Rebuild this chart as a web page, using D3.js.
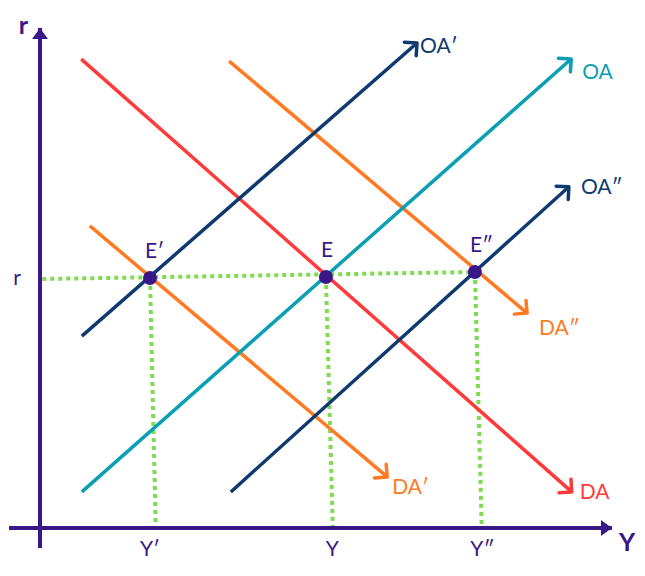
<!DOCTYPE html>
<html lang="fr">
<head>
<meta charset="UTF-8">
<title>OA / DA</title>
<style>
    body { margin: 0; background: #fff; }
    svg { display: block; }
    text { font-family: Lato, "Noto Sans", sans-serif; }
</style>
</head>
<body>
<svg id="chart" width="645" height="576"></svg>
<script src="https://d3js.org/d3.v7.min.js"></script>
<script>
    // courbes : [x, y] en unités du graphique (0..100)
    const curveNames = ["DA", "DA′", "DA″", "OA", "OA′", "OA″"];
    const curveStart = [[7.2, 93.6], [8.7, 60.3], [33.0, 93.2], [7.3, 7.2], [7.3, 38.3], [33.3, 7.2]];
    const curveEnd = [[92.8, 7.2], [60.6, 10.2], [85.0, 42.9], [92.7, 93.6], [65.8, 96.8], [92.3, 68.1]];

    // équilibres
    const eqNames = ["E′", "E", "E″"];
    const eqPoints = [[19.2, 49.9], [49.9, 50.1], [75.9, 51.1]];
    const eqFoot = [20.2, 51.1, 77.1];      // pied des pointillés sur l'axe Y
    const rStart = [0.4, 49.7];             // début du pointillé horizontal

    // graduations
    const xTickLabels = ["Y′", "Y", "Y″"];
    const xTickValues = [19.2, 51.0, 77.2];
    const yTickLabels = ["r"];
    const yTickValues = [49.9];

    const colors = {
        "DA": "#ff3a3a", "DA′": "#ff7a22", "DA″": "#ff7a22",
        "OA": "#0b9fb4", "OA′": "#0f3a70", "OA″": "#0f3a70"
    };
    // décalage des étiquettes par rapport à la pointe de la flèche (px)
    const labelOffset = {
        "DA": [8, 7], "DA′": [5, 17], "DA″": [12, 22],
        "OA": [11, 20], "OA′": [3, 10], "OA″": [12, 7]
    };
    const axisColor = "#3a1787";
    const dotColor = "#7ddc4f";

    const svg = d3.select("#chart");
    const x = d3.scaleLinear().domain([0, 100]).range([40, 613]);
    const y = d3.scaleLinear().domain([0, 100]).range([528, 27]);

    const defs = svg.append("defs");
    defs.append("marker")
        .attr("id", "tri")
        .attr("markerUnits", "userSpaceOnUse")
        .attr("viewBox", "-12 -9 13 18")
        .attr("refX", 0).attr("refY", 0)
        .attr("markerWidth", 13).attr("markerHeight", 18)
        .attr("orient", "auto")
        .append("path")
        .attr("d", "M-11,-8L0,0L-11,8Z")
        .attr("fill", axisColor);

    curveNames.forEach((name, i) => {
        defs.append("marker")
            .attr("id", "arrow" + i)
            .attr("markerUnits", "userSpaceOnUse")
            .attr("viewBox", "-12 -12 15 24")
            .attr("refX", 0).attr("refY", 0)
            .attr("markerWidth", 15).attr("markerHeight", 24)
            .attr("orient", "auto")
            .append("path")
            .attr("d", "M-9,-9L0,0L-9,9")
            .attr("fill", "none")
            .attr("stroke", colors[name])
            .attr("stroke-width", 3.5)
            .attr("stroke-linecap", "round")
            .attr("stroke-linejoin", "round");
    });

    // pointillés
    const dotted = svg.append("g")
        .attr("stroke", dotColor)
        .attr("stroke-width", 4)
        .attr("stroke-dasharray", "4,4");

    dotted.append("line")
        .attr("x1", x(rStart[0])).attr("y1", y(rStart[1]))
        .attr("x2", x(eqPoints[2][0])).attr("y2", y(eqPoints[2][1]));

    dotted.selectAll(".v")
        .data(eqPoints)
        .join("line")
        .attr("x1", d => x(d[0])).attr("y1", d => y(d[1]))
        .attr("x2", (d, i) => x(eqFoot[i])).attr("y2", y(0));

    // axes
    svg.append("line")
        .attr("x1", x(0)).attr("y1", y(-4))
        .attr("x2", x(0)).attr("y2", y(100) + 1)
        .attr("stroke", axisColor).attr("stroke-width", 4)
        .attr("marker-end", "url(#tri)");
    svg.append("line")
        .attr("x1", x(-5.4)).attr("y1", y(0))
        .attr("x2", x(100) - 1).attr("y2", y(0))
        .attr("stroke", axisColor).attr("stroke-width", 4)
        .attr("marker-end", "url(#tri)");

    svg.append("text")
        .attr("x", x(0) - 12).attr("y", y(100) + 7)
        .attr("text-anchor", "end")
        .attr("font-size", 25).attr("font-weight", "bold")
        .attr("fill", axisColor)
        .text("r");
    svg.append("text")
        .attr("x", x(100) + 6).attr("y", y(0) + 23)
        .attr("font-size", 25).attr("font-weight", "bold")
        .attr("fill", axisColor)
        .text("Y");

    svg.selectAll(".xtick")
        .data(xTickValues)
        .join("text")
        .attr("x", d => x(d)).attr("y", y(0) + 28)
        .attr("text-anchor", "middle")
        .attr("font-size", 21)
        .attr("fill", axisColor)
        .text((d, i) => xTickLabels[i]);

    svg.selectAll(".ytick")
        .data(yTickValues)
        .join("text")
        .attr("x", x(0) - 19).attr("y", d => y(d) + 7)
        .attr("text-anchor", "end")
        .attr("font-size", 21)
        .attr("fill", axisColor)
        .text((d, i) => yTickLabels[i]);

    // courbes OA / DA
    const curves = svg.append("g")
        .selectAll("g")
        .data(curveNames)
        .join("g");

    curves.append("line")
        .attr("x1", (d, i) => x(curveStart[i][0])).attr("y1", (d, i) => y(curveStart[i][1]))
        .attr("x2", (d, i) => x(curveEnd[i][0])).attr("y2", (d, i) => y(curveEnd[i][1]))
        .attr("stroke", d => colors[d])
        .attr("stroke-width", 3.5)
        .attr("marker-end", (d, i) => `url(#arrow${i})`);

    curves.append("text")
        .attr("x", (d, i) => x(curveEnd[i][0]) + labelOffset[d][0])
        .attr("y", (d, i) => y(curveEnd[i][1]) + labelOffset[d][1])
        .attr("font-size", 21)
        .attr("fill", d => colors[d])
        .text(d => d);

    // points d'équilibre
    svg.append("g")
        .selectAll("circle")
        .data(eqPoints)
        .join("circle")
        .attr("cx", d => x(d[0])).attr("cy", d => y(d[1]))
        .attr("r", 7)
        .attr("fill", axisColor);

    svg.append("g")
        .selectAll("text")
        .data(eqPoints)
        .join("text")
        .attr("x", d => x(d[0]) - 5).attr("y", d => y(d[1]) - 20)
        .attr("font-size", 21)
        .attr("fill", axisColor)
        .text((d, i) => eqNames[i]);
</script>
</body>
</html>
